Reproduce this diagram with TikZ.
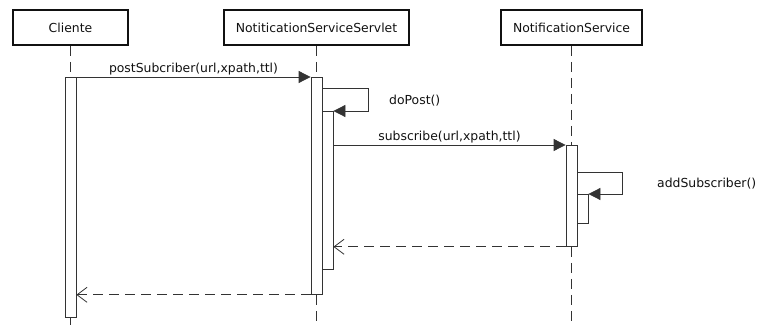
\documentclass[tikz,border=0pt]{standalone}
\usepackage{fontspec}
\setmainfont{DejaVu Sans}
\usepackage{xcolor}
\usepackage{tikz}
\usetikzlibrary{arrows.meta, positioning, calc}
\definecolor{ink}{HTML}{111111}
\definecolor{line}{HTML}{333333}
\tikzset{
  head/.style     = {draw=ink, line width=1.8pt, rectangle, minimum height=35pt,
                     inner sep=0pt, font=\fontsize{12.4}{14}\selectfont, text=ink},
  act/.style      = {draw=line, line width=0.8pt, fill=white, rectangle, minimum width=11pt,
                     inner sep=0pt, anchor=north},
  life/.style     = {draw=line, line width=0.8pt, dash pattern=on 10pt off 6pt},
  call/.style     = {-{Triangle[length=12pt, width=12pt]}, draw=line, line width=0.8pt},
  reply/.style    = {-{Straight Barb[length=10pt, width=15pt]}, draw=line, line width=0.8pt,
                     dash pattern=on 10pt off 6pt},
  msg/.style      = {font=\fontsize{12.4}{14}\selectfont, text=ink, inner sep=1pt},
}
\begin{document}
\begin{tikzpicture}[x=1pt, y=-1pt]
  \useasboundingbox (0,0) rectangle (760,331);

  % lifeline heads
  \node[head, minimum width=115pt] (cli) at (70.5,27.5) {Cliente};
  \node[head, minimum width=185pt] (srv) at (316.5,27.5) {NotiticationServiceServlet};
  \node[head, minimum width=141pt] (ns)  at (571.5,27.5) {NotificationService};

  % bottom ends of lifelines
  \coordinate (cliEnd) at (70.5,325);
  \coordinate (srvEnd) at (316.5,325);
  \coordinate (nsEnd)  at (571.5,325);

  % activations
  \node[act, minimum height=240pt] (actC)  at (70.5,77) {};
  \node[act, minimum height=217pt] (actS)  at (316.5,77) {};
  \node[act, minimum height=158pt] (actS2) at (327.5,111) {};
  \node[act, minimum height=101pt] (actN)  at (571.5,145) {};
  \node[act, minimum height=29pt]  (actN2) at (582.5,194) {};

  \draw[life] (cli) -- (actC);
  \draw[life] (actC) -- (cliEnd);
  \draw[life] (srv) -- (actS);
  \draw[life] (actS) -- (srvEnd);
  \draw[life] (ns) -- (actN);
  \draw[life] (actN) -- (nsEnd);

  % messages
  \draw[call] (actC.north east) -- node[msg, above=1pt] {postSubcriber(url,xpath,ttl)} (actS.north west);

  \coordinate (dpA) at (322,88);
  \coordinate (dpB) at (368,88);
  \coordinate (dpC) at (368,111);
  \draw[call] (dpA) -- (dpB) -- (dpC) -- (actS2.north east);
  \node[msg, anchor=west] (dpLbl) at (388,101) {doPost()};

  \draw[call] (actS2.east |- actN.north) -- node[msg, above=1pt] {subscribe(url,xpath,ttl)} (actN.north west);

  \coordinate (asA) at (577,172);
  \coordinate (asB) at (622,172);
  \coordinate (asC) at (622,194);
  \draw[call] (asA) -- (asB) -- (asC) -- (actN2.north east);
  \node[msg, anchor=west] (asLbl) at (656,184) {addSubscriber()};

  \draw[reply] (actN.south west) -- (actS2.east |- actN.south);
  \draw[reply] (actS.south west) -- (actC.east |- actS.south);
\end{tikzpicture}
\end{document}
